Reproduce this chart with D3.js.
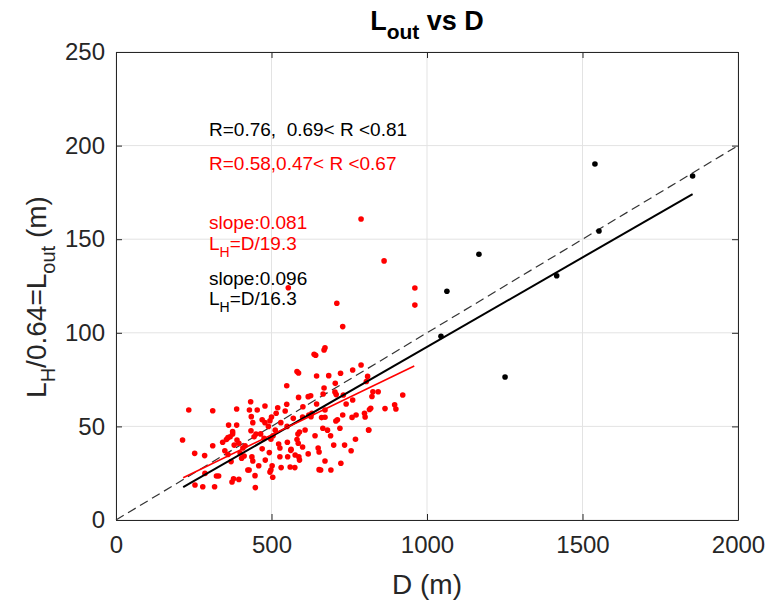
<!DOCTYPE html>
<html><head><meta charset="utf-8">
<script src="https://cdn.jsdelivr.net/npm/d3@7"></script>
<style>body{margin:0;background:#fff}svg{display:block;font-family:"Liberation Sans",Arial,sans-serif}</style>
</head><body><svg id="c" width="771" height="603"></svg>
<script>
const xTicks=[0,500,1000,1500,2000];
const yTicks=[0,50,100,150,200,250];
const blackPoints=[[1540,190.2],[1854,183.8],[1553,154.4],[1167,142],[1064,122.2],[1417,130.5],[1045,98.1],[1251,76.4]];
const redPoints=[
[788,160.8],[862,138.4],[961,123.9],[961,114.8],[554,124.1],[710,115.8],[729,103.3],
[637,88.5],[642,88],[669,90.8],[672,92],[582,79.3],[587,78.5],[549,71.7],[645,76.9],[684,77.1],[722,78.4],[761,80.1],[788,82.8],
[809,76.7],[805,74],[823,66],[826,68.5],[843,68.5],[922,66.8],[819,59.7],[799,57],[801,55],[865,59.5],[900,59.3],[896,61.5],[813,48.1],
[234,58.8],[311,58.4],[388,59.3],[429,58.8],[433,63.2],[454,58.8],[479,60.9],[549,61.8],[544,58.2],[587,65.5],[618,65.9],[626,66.4],[666,67.3],[669,70.5],[704,68.4],[708,67],[731,66.8],[761,64.1],[645,62],[601,60.5],[672,58.8],[815,59],
[435,55.2],[440,52],[362,50.7],[388,50.7],[434,47.7],[375,47.2],[479,52],[470,53.5],[495,53],[500,55],[490,50],[570,54.3],[627,55.2],[630,57],[620,56],[661,54.7],[672,54.9],[707,52.9],[712,53.5],[729,56.1],[759,54.8],[772,56.1],[665,49],[608,48.1],[585,45.9],[590,47],[505,45],[512,48],[530,52],[465,46],[550,50],
[214,42.7],[253,35.6],[285,34.4],[311,39.7],[343,41.5],[360,44],[367,44.5],[375,46],[355,43],[389,42.7],[395,41],[360,35],[370,31.2],[399,35.8],[404,33],[415,39.7],[408,38.5],[437,33.7],[440,31.5],[450,45.9],[444,44.5],[476,43.6],[498,43.1],[493,36],[459,29],[428,26.7],[412,34.2],[523,40.6],[551,41.5],[582,43],[586,41],[562,37.2],[576,34.7],[590,32],[618,35.3],[653,36.3],[650,38.5],[672,31.5],[658,26.7],[691,26.7],[723,30.3],[756,37],[770,43.1],[812,48.1],[527,38.5],[563,37.8],[588,33.7],[552,33.8],[527,33.8],[502,29],[560,28.3],[575,28],[653,26.9],[495,25.6],[480,32],[470,38],
[323,23.5],[330,23.5],[286,24.9],[254,18.7],[279,17.8],[317,17.8],[373,20.3],[378,22],[395,21.7],[447,23.7],[448,17.3],[498,26.7],[504,22.8],[531,28],[424,26.7],[380,40],[350,37],[700,40],[735,40],[690,45],[640,45],[600,39],[680,48],[720,49],[600,55],[520,60],[515,57],[705,73],[740,62]
];
const blackFit=[[216,17.5],[1854,174.1]];
const redFit=[[216,22.6],[959,82.3]];
const refLine=[[0,0],[2000,200]];

const svg=d3.select("#c");
const L=116,R=738,T=52,B=520;
const x=d3.scaleLinear().domain([0,2000]).range([L,R]);
const y=d3.scaleLinear().domain([0,250]).range([B,T]);
const axCol="#262626";

const g=svg.append("g");
g.selectAll(".gx").data(xTicks).join("line").attr("x1",d=>x(d)).attr("x2",d=>x(d)).attr("y1",T).attr("y2",B).attr("stroke","#e3e3e3").attr("stroke-width",1);
g.selectAll(".gy").data(yTicks).join("line").attr("y1",d=>y(d)).attr("y2",d=>y(d)).attr("x1",L).attr("x2",R).attr("stroke","#e3e3e3").attr("stroke-width",1);

function style(sel){sel.select(".domain").attr("stroke",axCol);sel.selectAll(".tick line").attr("stroke",axCol);sel.selectAll("text").attr("fill",axCol).style("font-size","24px").style("font-family","'Liberation Sans',Arial,sans-serif");}
const fmt=d3.format("d");
svg.append("g").attr("transform",`translate(0,${B})`).call(d3.axisBottom(x).tickValues(xTicks).tickFormat(fmt).tickSizeInner(-6).tickSizeOuter(0).tickPadding(16)).call(style);
svg.append("g").attr("transform",`translate(${L},0)`).call(d3.axisLeft(y).tickValues(yTicks).tickFormat(fmt).tickSizeInner(-6).tickSizeOuter(0).tickPadding(11)).call(style);
svg.append("g").attr("transform",`translate(0,${T})`).call(d3.axisTop(x).tickValues(xTicks).tickFormat("").tickSizeInner(-6).tickSizeOuter(0)).call(style);
svg.append("g").attr("transform",`translate(${R},0)`).call(d3.axisRight(y).tickValues(yTicks).tickFormat("").tickSizeInner(-6).tickSizeOuter(0)).call(style);

const line=d3.line().x(d=>x(d[0])).y(d=>y(d[1]));
const plot=svg.append("g");
plot.append("path").datum(refLine).attr("d",line).attr("stroke","#333").attr("stroke-width",1.2).attr("stroke-dasharray","9,5").attr("fill","none");
plot.selectAll(".rp").data(redPoints).join("circle").attr("cx",d=>x(d[0])).attr("cy",d=>y(d[1])).attr("r",2.8).attr("fill","#ff0000");
plot.selectAll(".bp").data(blackPoints).join("circle").attr("cx",d=>x(d[0])).attr("cy",d=>y(d[1])).attr("r",2.8).attr("fill","#000");
plot.append("path").datum(blackFit).attr("d",line).attr("stroke","#000").attr("stroke-width",2).attr("fill","none");
plot.append("path").datum(redFit).attr("d",line).attr("stroke","#ff0000").attr("stroke-width",1.6).attr("fill","none");

const ann=svg.append("g").style("font-size","19px");
ann.append("text").attr("x",209).attr("y",136).attr("fill","#000").attr("xml:space","preserve").text("R=0.76,  0.69< R <0.81");
ann.append("text").attr("x",209).attr("y",170).attr("fill","#ff0000").text("R=0.58,0.47< R <0.67");
ann.append("text").attr("x",209).attr("y",229).attr("fill","#ff0000").text("slope:0.081");
let t=ann.append("text").attr("x",209).attr("y",250).attr("fill","#ff0000");
t.append("tspan").text("L");t.append("tspan").attr("dy",7).style("font-size","14px").text("H");t.append("tspan").attr("dy",-7).text("=D/19.3");
ann.append("text").attr("x",209).attr("y",285).attr("fill","#000").text("slope:0.096");
t=ann.append("text").attr("x",209).attr("y",305).attr("fill","#000");
t.append("tspan").text("L");t.append("tspan").attr("dy",7).style("font-size","14px").text("H");t.append("tspan").attr("dy",-7).text("=D/16.3");

t=svg.append("text").attr("x",427).attr("y",30).attr("text-anchor","middle").style("font-size","27px").style("font-weight","bold").attr("fill","#000");
t.append("tspan").text("L");t.append("tspan").attr("dy",9).style("font-size","21px").text("out");t.append("tspan").attr("dy",-9).text(" vs D");

svg.append("text").attr("x",427).attr("y",594).attr("text-anchor","middle").style("font-size","28px").attr("fill",axCol).text("D (m)");
t=svg.append("text").attr("transform",`translate(46,297) rotate(-90)`).attr("text-anchor","middle").style("font-size","28px").attr("fill",axCol);
t.append("tspan").text("L");t.append("tspan").attr("dy",9).style("font-size","20px").text("H");t.append("tspan").attr("dy",-9).text("/0.64=L");t.append("tspan").attr("dy",9).style("font-size","20px").text("out");t.append("tspan").attr("dy",-9).text(" (m)");
</script></body></html>
